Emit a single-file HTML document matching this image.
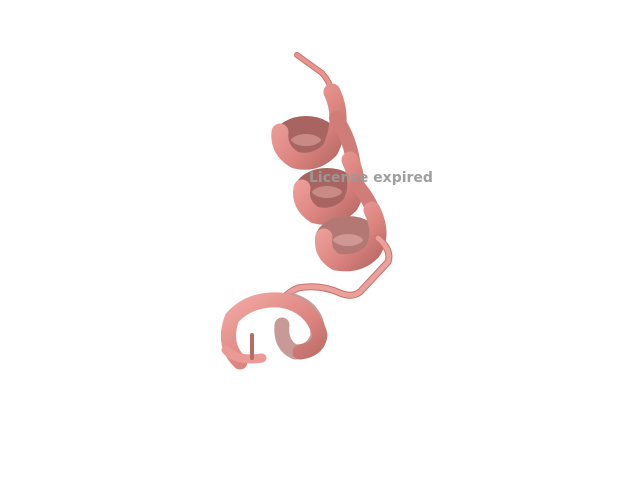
<!DOCTYPE html>
<html><head><meta charset="utf-8"><style>
html,body{margin:0;padding:0;background:#fff;width:640px;height:480px;overflow:hidden}
svg{display:block}
</style></head><body>
<svg width="640" height="480" viewBox="0 0 640 480" xmlns="http://www.w3.org/2000/svg">
<defs>
<linearGradient id="g" x1="0" y1="0" x2="1" y2="1">
<stop offset="0" stop-color="#f2a8a3"/><stop offset="0.6" stop-color="#dc8480"/><stop offset="1" stop-color="#b86a66"/>
</linearGradient>
</defs>
<g fill="none" stroke-linecap="round" stroke-linejoin="round">
<path d="M297 55 L322 73 Q330 82 332 92" stroke="#c9716d" stroke-width="6"/>
<path d="M297 55 L322 73 Q330 82 332 92" stroke="#e89590" stroke-width="4"/>
<g>
<ellipse cx="306" cy="140" rx="24" ry="15" fill="#c98a86" stroke="#a86460" stroke-width="18"/>
<path d="M332 92 Q345 120 330 150 Q315 165 295 160 Q278 150 280 132" stroke="url(#g)" stroke-width="17"/>
<path d="M336 118 Q352 140 355 175" stroke="#d07c78" stroke-width="14"/>
</g>
<g>
<ellipse cx="327" cy="192" rx="24" ry="15" fill="#c98a86" stroke="#a86460" stroke-width="18"/>
<path d="M350 160 Q362 185 350 205 Q335 220 315 215 Q299 205 302 188" stroke="url(#g)" stroke-width="17"/>
<path d="M357 185 Q375 205 378 230" stroke="#d07c78" stroke-width="14"/>
</g>
<g>
<ellipse cx="348" cy="240" rx="24" ry="15" fill="#d09894" stroke="#b47874" stroke-width="18"/>
<path d="M372 210 Q384 235 372 252 Q358 266 336 262 Q321 253 324 237" stroke="url(#g)" stroke-width="17"/>
</g>
<path d="M378 238 Q392 250 388 262 L360 292 Q352 298 340 293 Q320 284 298 288 Q288 292 282 300" stroke="#c9716d" stroke-width="7"/>
<path d="M378 238 Q392 250 388 262 L360 292 Q352 298 340 293 Q320 284 298 288 Q288 292 282 300" stroke="#eaa09b" stroke-width="5"/>
<g>
<path d="M290 300 Q318 308 318 335 Q314 352 295 352 Q280 345 282 325" stroke="#c79a98" stroke-width="15"/>
<path d="M240 362 Q222 345 232 318 Q250 298 280 300 Q312 305 320 335 Q318 350 300 352" stroke="url(#g)" stroke-width="15"/>
<path d="M226 350 Q238 362 262 358" stroke="#e99a95" stroke-width="9"/>
<path d="M252 335 L252 358" stroke="#b86a66" stroke-width="4"/>
</g>
</g>
<text x="309" y="182" font-family="DejaVu Sans, sans-serif" font-weight="bold" font-size="14" fill="#9a9a9a" fill-opacity="0.95">License expired</text>
</svg>
</body></html>
